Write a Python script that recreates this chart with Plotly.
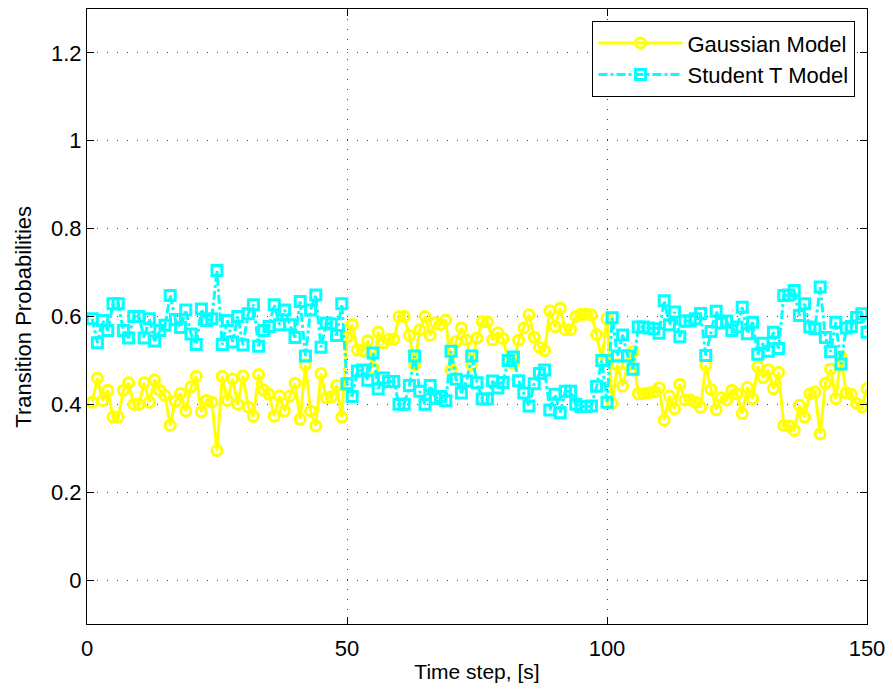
import plotly.graph_objects as go

time_steps = list(range(1, 151))

gaussian = [
    0.405, 0.460, 0.409, 0.432, 0.371, 0.371, 0.432, 0.449, 0.400, 0.400,
    0.449, 0.405, 0.456, 0.432, 0.420, 0.352, 0.407, 0.425, 0.385, 0.440,
    0.464, 0.383, 0.409, 0.405, 0.295, 0.464, 0.409, 0.458, 0.400, 0.465,
    0.394, 0.373, 0.468, 0.432, 0.423, 0.373, 0.419, 0.385, 0.419, 0.448,
    0.366, 0.490, 0.385, 0.351, 0.470, 0.415, 0.417, 0.443, 0.371, 0.553,
    0.582, 0.524, 0.522, 0.545, 0.483, 0.565, 0.540, 0.548, 0.548, 0.600,
    0.600, 0.557, 0.490, 0.570, 0.600, 0.557, 0.586, 0.582, 0.592, 0.479,
    0.543, 0.574, 0.547, 0.490, 0.551, 0.588, 0.588, 0.547, 0.563, 0.550,
    0.500, 0.492, 0.546, 0.574, 0.604, 0.553, 0.530, 0.522, 0.613, 0.577,
    0.619, 0.570, 0.570, 0.600, 0.605, 0.605, 0.604, 0.559, 0.500, 0.595,
    0.403, 0.490, 0.442, 0.490, 0.520, 0.424, 0.424, 0.426, 0.428, 0.438,
    0.364, 0.419, 0.390, 0.446, 0.410, 0.410, 0.405, 0.393, 0.489, 0.434,
    0.388, 0.415, 0.410, 0.432, 0.424, 0.379, 0.439, 0.413, 0.486, 0.461,
    0.479, 0.436, 0.473, 0.352, 0.351, 0.341, 0.398, 0.371, 0.424, 0.428,
    0.333, 0.448, 0.480, 0.413, 0.508, 0.426, 0.423, 0.402, 0.394, 0.436,
]

student_t = [
    0.595, 0.540, 0.591, 0.568, 0.629, 0.629, 0.568, 0.551, 0.600, 0.600,
    0.551, 0.595, 0.544, 0.568, 0.580, 0.648, 0.593, 0.575, 0.615, 0.560,
    0.536, 0.617, 0.591, 0.595, 0.705, 0.536, 0.591, 0.542, 0.600, 0.535,
    0.606, 0.627, 0.532, 0.568, 0.577, 0.627, 0.581, 0.615, 0.581, 0.552,
    0.634, 0.510, 0.615, 0.649, 0.530, 0.585, 0.583, 0.557, 0.629, 0.447,
    0.418, 0.476, 0.478, 0.455, 0.517, 0.435, 0.460, 0.452, 0.452, 0.400,
    0.400, 0.443, 0.510, 0.430, 0.400, 0.443, 0.414, 0.418, 0.408, 0.521,
    0.457, 0.426, 0.453, 0.510, 0.449, 0.412, 0.412, 0.453, 0.437, 0.450,
    0.500, 0.508, 0.454, 0.426, 0.396, 0.447, 0.470, 0.478, 0.387, 0.423,
    0.381, 0.430, 0.430, 0.400, 0.395, 0.395, 0.396, 0.441, 0.500, 0.405,
    0.597, 0.510, 0.558, 0.510, 0.480, 0.576, 0.576, 0.574, 0.572, 0.562,
    0.636, 0.581, 0.610, 0.554, 0.590, 0.590, 0.595, 0.607, 0.511, 0.566,
    0.612, 0.585, 0.590, 0.568, 0.576, 0.621, 0.561, 0.587, 0.514, 0.539,
    0.521, 0.564, 0.527, 0.648, 0.649, 0.659, 0.602, 0.629, 0.576, 0.572,
    0.667, 0.552, 0.520, 0.587, 0.492, 0.574, 0.577, 0.598, 0.606, 0.564,
]

x_ticks = [0, 50, 100, 150]
y_ticks = [0, 0.2, 0.4, 0.6, 0.8, 1.0, 1.2]
y_tick_labels = ["0", "0.2", "0.4", "0.6", "0.8", "1", "1.2"]

FONT = "Liberation Sans, Arial, Helvetica, sans-serif"

fig = go.Figure()
fig.add_trace(go.Scatter(
    x=time_steps, y=gaussian, name="Gaussian Model",
    mode="lines+markers",
    line=dict(color="#FFFF00", width=3),
    marker=dict(symbol="circle-open", size=10, color="#FFFF00",
                line=dict(width=3, color="#FFFF00")),
))
fig.add_trace(go.Scatter(
    x=time_steps, y=student_t, name="Student T Model",
    mode="lines+markers",
    line=dict(color="#00FFFF", width=3, dash="dashdot"),
    marker=dict(symbol="square-open", size=10, color="#00FFFF",
                line=dict(width=3, color="#00FFFF")),
))

axis_common = dict(
    showline=True, linecolor="black", linewidth=1.2, mirror="ticks",
    ticks="inside", ticklen=7, tickcolor="black",
    showgrid=True, gridcolor="#444444", griddash="1px,9px", gridwidth=1,
    zeroline=False,
    tickfont=dict(family=FONT, size=22, color="black"),
)

fig.update_xaxes(range=[0, 150], tickvals=x_ticks, ticklabelstandoff=4,
                 title=dict(text="Time step, [s]", font=dict(family=FONT, size=21, color="black"), standoff=4),
                 **axis_common)
fig.update_yaxes(range=[-0.1, 1.3], tickvals=y_ticks, ticktext=y_tick_labels,
                 **axis_common)

fig.add_annotation(
    text="Transition Probabilities", textangle=-90,
    xref="paper", yref="paper", x=-0.0818, y=0.5,
    xanchor="center", yanchor="middle", showarrow=False,
    font=dict(family=FONT, size=22, color="black"),
)

fig.update_layout(
    width=893, height=692,
    margin=dict(l=87, r=24, t=8, b=68),
    paper_bgcolor="white", plot_bgcolor="white",
    font=dict(family=FONT, size=21, color="black"),
    legend=dict(
        x=0.985, y=0.9805, xanchor="right", yanchor="top",
        bgcolor="white", bordercolor="black", borderwidth=1.2,
        font=dict(family=FONT, size=22, color="black"),
        tracegroupgap=0, itemwidth=84,
    ),
    showlegend=True,
)

fig.write_html("out.html")
